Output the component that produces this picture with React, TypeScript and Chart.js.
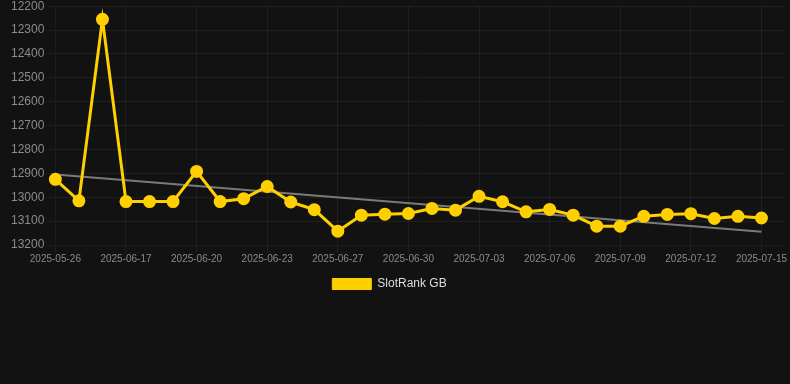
import React, { useEffect, useRef } from "react";
import { Chart, registerables } from "chart.js";

Chart.register(...registerables);

const labels: string[] = [
  "2025-05-26", "2025-06-15", "2025-06-16", "2025-06-17", "2025-06-18", "2025-06-19",
  "2025-06-20", "2025-06-21", "2025-06-22", "2025-06-23", "2025-06-24", "2025-06-26",
  "2025-06-27", "2025-06-28", "2025-06-29", "2025-06-30", "2025-07-01", "2025-07-02",
  "2025-07-03", "2025-07-04", "2025-07-05", "2025-07-06", "2025-07-07", "2025-07-08",
  "2025-07-09", "2025-07-10", "2025-07-11", "2025-07-12", "2025-07-13", "2025-07-14",
  "2025-07-15", "",
];

const rankValues: (number | null)[] = [
  12925, 13015, 12255, 13018, 13018, 13018, 12892, 13018, 13006, 12955,
  13020, 13052, 13142, 13075, 13071, 13068, 13047, 13054, 12996, 13019,
  13061, 13051, 13075, 13121, 13121, 13080, 13072, 13069, 13089, 13080,
  13087, null,
];

const trendValues: (number | null)[] = [
  12905, null, null, null, null, null, null, null, null, null,
  null, null, null, null, null, null, null, null, null, null,
  null, null, null, null, null, null, null, null, null, null,
  13145, null,
];

const yMin = 12200;
const yMax = 13200;
const yStep = 100;

const legendShift = {
  id: "legendShift",
  afterLayout(chart: any) {
    const l = chart.legend;
    if (l) {
      l.left -= 11;
      l.right -= 11;
    }
  },
};

export default function App() {
  const ref = useRef<HTMLCanvasElement | null>(null);

  useEffect(() => {
    document.body.style.margin = "0";
    document.body.style.background = "#121212";
    if (!ref.current) return;
    const chart = new Chart(ref.current, {
      type: "line",
      plugins: [legendShift],
      data: {
        labels,
        datasets: [
          {
            label: "SlotRank GB",
            data: rankValues,
            borderColor: "#FFD000",
            backgroundColor: "#FFD000",
            borderWidth: 3,
            pointRadius: 5,
            pointBackgroundColor: "#FFD000",
            pointBorderColor: "#FFD000",
            tension: 0,
            fill: false,
          },
          {
            label: "Trend",
            data: trendValues,
            borderColor: "#7a7a7a",
            backgroundColor: "#7a7a7a",
            borderWidth: 2,
            pointRadius: 0,
            spanGaps: true,
            fill: false,
          },
        ],
      },
      options: {
        animation: false,
        responsive: true,
        maintainAspectRatio: false,
        font: { family: "'Liberation Sans', Arial, sans-serif" },
        layout: { padding: { left: 8, right: 0, top: 0, bottom: 0 } },
        scales: {
          x: {
            grid: { color: "rgba(255,255,255,0.06)" },
            ticks: {
              color: "#8a8a8a",
              font: { size: 10, family: "'Liberation Sans', Arial, sans-serif" },
              maxRotation: 0,
              autoSkip: true,
              maxTicksLimit: 11,
              padding: 0,
            },
          },
          y: {
            reverse: true,
            min: yMin,
            max: yMax,
            grid: { color: "rgba(255,255,255,0.06)" },
            ticks: {
              color: "#8a8a8a",
              font: { size: 12, family: "'Liberation Sans', Arial, sans-serif" },
              stepSize: yStep,
              callback: (v: any) => String(v),
            },
          },
        },
        plugins: {
          legend: {
            position: "bottom",
            labels: {
              color: "#dddddd",
              font: { size: 12, family: "'Liberation Sans', Arial, sans-serif" },
              boxWidth: 39,
              boxHeight: 11,
              padding: 13,
              generateLabels: (c: any) =>
                Chart.defaults.plugins.legend.labels
                  .generateLabels(c)
                  .filter((it: any) => it.text === "SlotRank GB")
                  .map((it: any) => ({ ...it, lineWidth: 1 })),
            },
          },
          tooltip: { enabled: false },
        },
      },
    });
    return () => chart.destroy();
  }, []);

  return (
    <div style={{ width: 790, height: 384, background: "#121212", overflow: "hidden", position: "relative" }}>
      <div style={{ position: "absolute", top: -4, left: 0, width: 793, height: 304 }}>
        <canvas ref={ref} />
      </div>
    </div>
  );
}
